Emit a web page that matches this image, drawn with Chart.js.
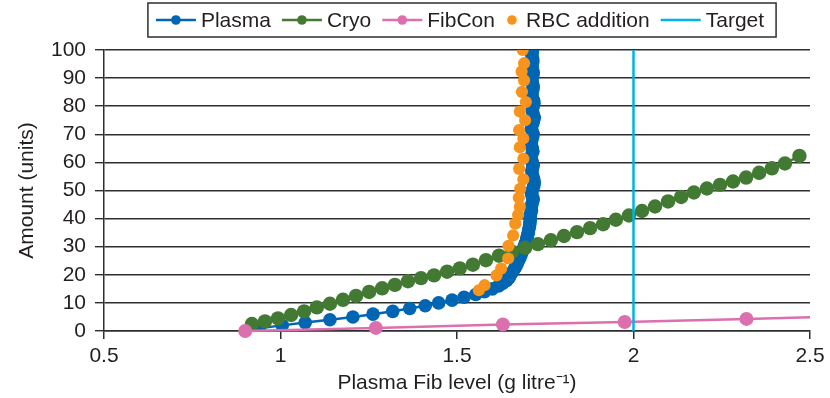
<!DOCTYPE html>
<html>
<head>
<meta charset="utf-8">
<script src="https://cdn.jsdelivr.net/npm/chart.js@4.4.1/dist/chart.umd.min.js"></script>
<style>
  html, body { margin: 0; padding: 0; background: #fff; }
  #wrap { width: 830px; height: 398px; }
</style>
</head>
<body>
<div id="wrap"><canvas id="chart" width="830" height="398"></canvas></div>
<script>
// ==================== DATA ====================

const seriesNames = ['Plasma', 'Cryo', 'FibCon', 'RBC addition', 'Target'];

// Plasma: fibrinogen level vs units given
const plasmaUnits = [
    1, 2, 3, 4, 5, 6, 7, 8, 9, 10, 11, 12, 13, 14, 15, 16, 17, 18, 19, 20,
    21, 22, 23, 24, 25, 26, 27, 28, 29, 30, 31, 32, 33, 34, 35, 36, 37, 38, 39, 40,
    41, 42, 43, 44, 45, 46, 47, 48, 49, 50, 51, 52, 53, 54, 55, 56, 57, 58, 59, 60,
    61, 62, 63, 64, 65, 66, 67, 68, 69, 70, 71, 72, 73, 74, 75, 76, 77, 78, 79, 80,
    81, 82, 83, 84, 85, 86, 87, 88, 89, 90, 91, 92, 93, 94, 95, 96, 97, 98, 99, 100
];
const plasmaFib = [
    0.940, 1.005, 1.070, 1.140, 1.205, 1.262, 1.318, 1.366, 1.410, 1.448,
    1.486, 1.520, 1.553, 1.578, 1.600, 1.618, 1.630, 1.641, 1.648, 1.652,
    1.657, 1.662, 1.667, 1.671, 1.674, 1.678, 1.681, 1.684, 1.687, 1.690,
    1.693, 1.696, 1.698, 1.700, 1.702, 1.703, 1.705, 1.706, 1.707, 1.708,
    1.706, 1.709, 1.711, 1.710, 1.712, 1.714, 1.716, 1.713, 1.711, 1.713,
    1.716, 1.718, 1.719, 1.717, 1.715, 1.713, 1.712, 1.714, 1.716, 1.713,
    1.711, 1.710, 1.712, 1.715, 1.713, 1.711, 1.710, 1.712, 1.714, 1.716,
    1.713, 1.711, 1.712, 1.715, 1.717, 1.719, 1.716, 1.714, 1.713, 1.716,
    1.718, 1.717, 1.714, 1.712, 1.713, 1.715, 1.716, 1.714, 1.712, 1.713,
    1.715, 1.716, 1.714, 1.712, 1.713, 1.715, 1.714, 1.712, 1.713, 1.714
];

// Cryo
const cryoFib = [
    0.919, 0.956, 0.993, 1.030, 1.067, 1.103, 1.140, 1.177, 1.214, 1.251,
    1.288, 1.324, 1.361, 1.398, 1.435, 1.472, 1.508, 1.545, 1.582, 1.619,
    1.656, 1.693, 1.729, 1.766, 1.803, 1.840, 1.877, 1.914, 1.950, 1.987,
    2.024, 2.061, 2.098, 2.135, 2.171, 2.208, 2.245, 2.282, 2.319, 2.356,
    2.392, 2.429, 2.470
];
const cryoUnits = [
    2.5, 3.4, 4.5, 5.7, 7.0, 8.4, 9.7, 11.1, 12.5, 13.9,
    15.2, 16.4, 17.7, 18.8, 19.8, 21.1, 22.3, 23.6, 25.2, 26.8,
    28.2, 29.6, 30.9, 32.3, 33.8, 35.2, 36.6, 38.0, 39.6, 41.1,
    42.7, 44.3, 46.1, 47.7, 49.3, 50.7, 52.0, 53.2, 54.6, 56.3,
    57.9, 59.6, 62.3
];

// FibCon
const fibconFib = [0.90, 1.27, 1.63, 1.975, 2.32, 2.665];
const fibconUnits = [0, 1.1, 2.3, 3.2, 4.3, 5.4];

// RBC addition (markers only)
const rbcFib = [
    1.562, 1.578, 1.612, 1.625, 1.645, 1.646, 1.659, 1.665, 1.673, 1.678,
    1.675, 1.679, 1.688, 1.676, 1.688, 1.678, 1.688, 1.676, 1.693, 1.678,
    1.695, 1.684, 1.690, 1.683, 1.690, 1.686
];
const rbcUnits = [
    14.5, 16.3, 19.8, 22.2, 25.8, 30.3, 34.0, 38.2, 41.3, 44.2,
    47.4, 50.6, 54.0, 57.7, 61.3, 65.4, 68.5, 71.5, 75.0, 78.1,
    81.5, 85.1, 89.2, 92.3, 95.3, 100
];

// Target line
const targetFib = [2, 2];
const targetUnits = [0, 100];

const xTicks = [0.5, 1, 1.5, 2, 2.5];
const yTicks = [0, 10, 20, 30, 40, 50, 60, 70, 80, 90, 100];

// ==================== STYLE ====================

const COLORS = {
    plasma: '#0066b3',
    cryo: '#437a33',
    fibcon: '#dc6fae',
    rbc: '#f7941d',
    target: '#00b2e6',
    text: '#231f20',
    grid: '#2e2e2e',
    axis: '#2e2e2e'
};
const FONT = { family: '"Liberation Sans", Arial, Helvetica, sans-serif', size: 21 };

function toPoints(xs, ys) {
    return xs.map((x, i) => ({ x: x, y: ys[i] }));
}

// Legend drawn by hand: Excel-style boxed row above the plot
// kind: 'both' = line + dot, 'dot' = marker only, 'line' = line only
const legendKinds = ['both', 'both', 'both', 'dot', 'line'];
const legendColors = [COLORS.plasma, COLORS.cryo, COLORS.fibcon, COLORS.rbc, COLORS.target];

const boxedLegend = {
    id: 'boxedLegend',
    afterDraw(chart) {
        const ctx = chart.ctx;
        const cy = 20;
        const centerX = (chart.chartArea.left + chart.chartArea.right) / 2 + 3;
        ctx.save();
        ctx.font = FONT.size + 'px ' + FONT.family;
        ctx.textBaseline = 'middle';
        ctx.textAlign = 'left';

        // measure the row
        const parts = seriesNames.map((name, i) => {
            const symW = legendKinds[i] === 'dot' ? 20 : 45;
            return { name, symW, textW: ctx.measureText(name).width };
        });
        const gap = 11;
        let total = 0;
        parts.forEach((p, i) => { total += p.symW + p.textW + (i ? gap : 0); });
        let x = centerX - total / 2;

        // frame
        ctx.strokeStyle = COLORS.axis;
        ctx.lineWidth = 1.5;
        ctx.strokeRect(x - 8, cy - 17, total + 20, 34);

        parts.forEach((p, i) => {
            const color = legendColors[i];
            const kind = legendKinds[i];
            if (kind !== 'dot') {
                ctx.strokeStyle = color;
                ctx.lineWidth = 2.5;
                ctx.beginPath();
                ctx.moveTo(x, cy);
                ctx.lineTo(x + 40, cy);
                ctx.stroke();
            }
            if (kind !== 'line') {
                ctx.fillStyle = color;
                ctx.beginPath();
                ctx.arc(kind === 'dot' ? x + 6 : x + 20, cy, 4.8, 0, Math.PI * 2);
                ctx.fill();
            }
            ctx.fillStyle = COLORS.text;
            ctx.fillText(p.name, x + p.symW, cy + 1);
            x += p.symW + p.textW + gap;
        });
        ctx.restore();
    }
};

// ==================== CHART ====================

const ctx = document.getElementById('chart').getContext('2d');

new Chart(ctx, {
    type: 'scatter',
    data: {
        datasets: [
            {
                label: seriesNames[0],
                data: toPoints(plasmaFib, plasmaUnits),
                showLine: true,
                borderColor: COLORS.plasma,
                backgroundColor: COLORS.plasma,
                borderWidth: 2.5,
                pointRadius: 6.8,
                pointBorderWidth: 0,
                order: 5
            },
            {
                label: seriesNames[1],
                data: toPoints(cryoFib, cryoUnits),
                showLine: true,
                borderColor: COLORS.cryo,
                backgroundColor: COLORS.cryo,
                borderWidth: 2.5,
                pointRadius: 7.2,
                pointBorderWidth: 0,
                order: 4
            },
            {
                label: seriesNames[2],
                data: toPoints(fibconFib, fibconUnits),
                showLine: true,
                borderColor: COLORS.fibcon,
                backgroundColor: COLORS.fibcon,
                borderWidth: 2.5,
                pointRadius: 7,
                pointBorderWidth: 0,
                clip: { left: 10, top: 10, right: 0, bottom: 10 },
                order: 3
            },
            {
                label: seriesNames[3],
                data: toPoints(rbcFib, rbcUnits),
                showLine: false,
                borderColor: COLORS.rbc,
                backgroundColor: COLORS.rbc,
                pointRadius: 6.1,
                pointBorderWidth: 0,
                order: 2
            },
            {
                label: seriesNames[4],
                data: toPoints(targetFib, targetUnits),
                showLine: true,
                borderColor: COLORS.target,
                backgroundColor: COLORS.target,
                borderWidth: 2.5,
                pointRadius: 0,
                order: 1
            }
        ]
    },
    options: {
        responsive: false,
        animation: false,
        events: [],
        layout: {
            padding: { top: 50, right: 20, bottom: 0, left: 0 }
        },
        scales: {
            x: {
                type: 'linear',
                min: 0.5,
                max: 2.5,
                afterBuildTicks: (scale) => {
                    scale.ticks = xTicks.map(v => ({ value: v }));
                },
                afterFit: (scale) => {
                    scale.height = 67;
                },
                ticks: {
                    color: COLORS.text,
                    font: FONT,
                    padding: 5,
                    maxRotation: 0,
                    autoSkip: false,
                    callback: (v) => String(v)
                },
                grid: {
                    drawOnChartArea: false,
                    drawTicks: true,
                    tickLength: 8,
                    color: COLORS.axis,
                    lineWidth: 1.5
                },
                border: {
                    color: COLORS.axis,
                    width: 1.5
                },
                title: {
                    display: true,
                    text: 'Plasma Fib level (g litre\u207B\u00B9)',
                    color: COLORS.text,
                    font: FONT,
                    padding: { top: 0, bottom: 2 }
                }
            },
            y: {
                type: 'linear',
                min: 0,
                max: 100,
                afterBuildTicks: (scale) => {
                    scale.ticks = yTicks.map(v => ({ value: v }));
                },
                afterFit: (scale) => {
                    scale.width = 104;
                },
                ticks: {
                    color: COLORS.text,
                    font: FONT,
                    padding: 9,
                    autoSkip: false
                },
                grid: {
                    drawTicks: true,
                    tickLength: 9,
                    color: COLORS.grid,
                    lineWidth: 1.4
                },
                border: {
                    color: COLORS.axis,
                    width: 1.5
                },
                title: {
                    display: true,
                    text: 'Amount (units)',
                    color: COLORS.text,
                    font: FONT,
                    padding: { top: 15, bottom: 0 }
                }
            }
        },
        plugins: {
            tooltip: { enabled: false },
            legend: { display: false }
        }
    },
    plugins: [boxedLegend]
});
</script>
</body>
</html>
